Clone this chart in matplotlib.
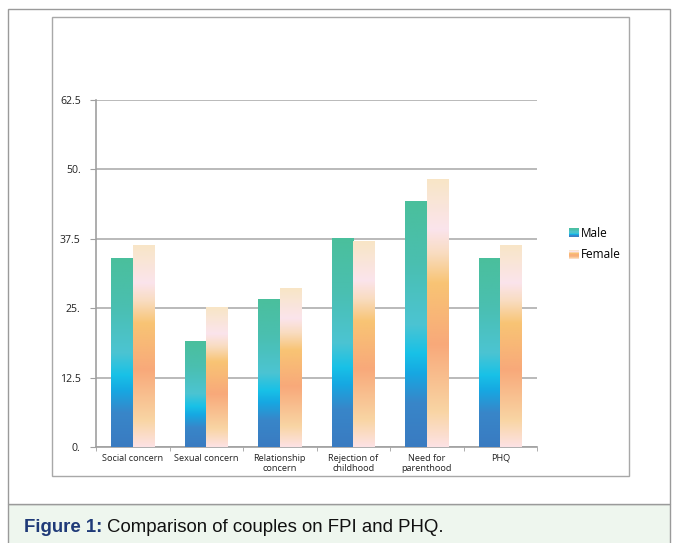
import numpy as np
import matplotlib
matplotlib.use("Agg")
import matplotlib.pyplot as plt
from matplotlib.colors import LinearSegmentedColormap
from matplotlib.patches import Rectangle
from matplotlib.legend_handler import HandlerBase

categories = ["Social concern", "Sexual concern", "Relationship\nconcern",
              "Rejection of\nchildhood", "Need for\nparenthood", "PHQ"]
male = [34.0, 19.1, 26.7, 37.6, 44.3, 34.0]
female = [36.4, 25.2, 28.6, 37.1, 48.3, 36.4]
yticks = [0, 12.5, 25, 37.5, 50, 62.5]
ytick_labels = ["0.", "12.5", "25.", "37.5", "50.", "62.5"]

# gradients, listed from bar bottom (0) to bar top (1)
male_cmap = LinearSegmentedColormap.from_list("male", [
    (0.0, "#3a7bc1"), (0.18, "#3886c9"), (0.30, "#16a8e2"), (0.38, "#18c1e7"),
    (0.50, "#4cc4d2"), (0.75, "#4abfb0"), (1.0, "#4bbf9c")])
female_cmap = LinearSegmentedColormap.from_list("female", [
    (0.0, "#fde2e4"), (0.13, "#f9d5a4"), (0.38, "#f8a97a"), (0.61, "#f8c474"),
    (0.72, "#f9dcc0"), (0.81, "#fbe4ec"), (1.0, "#f8e6c6")])

fig = plt.figure(figsize=(6.73, 5.43), dpi=100)
W, H = 673, 543


def fbox(x0, y0, x1, y1, **kw):
    # rectangle in pixel coords of the page (y down)
    fig.patches.append(Rectangle((x0 / W, 1 - y1 / H), (x1 - x0) / W, (y1 - y0) / H,
                                 transform=fig.transFigure, **kw))


fbox(8, 504, 670, 560, facecolor="#eef6ee", edgecolor="#9a9a9a", lw=1.0, zorder=0)
fbox(8, 9, 670, 504, facecolor="white", edgecolor="#9a9a9a", lw=1.0, zorder=0)
fbox(52, 17, 629, 476, facecolor="white", edgecolor="#a8a8a8", lw=1.0, zorder=0)

ax = fig.add_axes([96 / W, 1 - 447 / H, 441 / W, 347 / H])
ax.set_zorder(5)
ax.patch.set_alpha(0)

x = np.arange(len(categories))
bw = 0.29
bars_m = ax.bar(x - bw / 2, male, bw, color="none", zorder=3)
bars_f = ax.bar(x + bw / 2, female, bw, color="none", zorder=3)

grad = np.linspace(0, 1, 256).reshape(-1, 1)
for bars, cmap in [(bars_m, male_cmap), (bars_f, female_cmap)]:
    for p in bars:
        x0, y0 = p.get_x(), p.get_y()
        im = ax.imshow(grad, cmap=cmap, origin="lower", aspect="auto",
                       extent=[x0, x0 + p.get_width(), y0, y0 + p.get_height()],
                       zorder=3, interpolation="bilinear")
        im.set_clip_path(p)

ax.set_xlim(-0.5, 5.5)
ax.set_ylim(0, 62.5)
ax.set_yticks(yticks)
ax.set_yticklabels(ytick_labels)
ax.yaxis.grid(True, color="#b4b4b4", lw=1.3, zorder=1)
ax.set_axisbelow(True)

ax.set_xticks(x)
ax.set_xticklabels(categories, linespacing=1.15)
ax.set_xticks(np.arange(-0.5, 6, 1), minor=True)
ax.tick_params(axis="x", which="major", length=0, pad=5, labelsize=6.6, labelcolor="#222222")
ax.tick_params(axis="x", which="minor", length=3, color="#a0a0a0")
ax.tick_params(axis="y", length=4, color="#a0a0a0", pad=7, labelsize=7.6, labelcolor="#222222")
for lab in ax.get_xticklabels() + ax.get_yticklabels():
    lab.set_family("Open Sans")

for s in ["top", "right"]:
    ax.spines[s].set_visible(False)
for s in ["left", "bottom"]:
    ax.spines[s].set_color("#a0a0a0")
    ax.spines[s].set_linewidth(1.2)


class GradientHandler(HandlerBase):
    def __init__(self, cmap):
        super().__init__()
        self.cmap = cmap

    def create_artists(self, legend, orig_handle, xdescent, ydescent, width, height, fontsize, trans):
        n = 8
        arts = []
        for i in range(n):
            r = Rectangle((-xdescent, -ydescent + height * i / n), width, height / n,
                          facecolor=self.cmap((i + 0.5) / n), edgecolor="none", transform=trans)
            arts.append(r)
        return arts


hm = Rectangle((0, 0), 1, 1)
hf = Rectangle((0, 0), 1, 1)
leg = fig.legend([hm, hf], ["Male", "Female"],
                 handler_map={hm: GradientHandler(male_cmap), hf: GradientHandler(female_cmap)},
                 loc="upper left", bbox_to_anchor=(558 / W, 1 - 216 / H), frameon=False,
                 handlelength=0.85, handleheight=0.8, handletextpad=0.15, labelspacing=0.75,
                 prop={"family": "Open Sans", "size": 8.5})

t1 = fig.text(24 / W, 1 - 532 / H, "Figure 1:", color="#1f3a78", fontweight="bold",
              family="Liberation Sans", fontsize=13.4, va="baseline")
fig.canvas.draw()
bb = t1.get_window_extent()
fig.text(bb.x1 / W + 5 / W, 1 - 532 / H, "Comparison of couples on FPI and PHQ.", color="#111111",
         family="Liberation Sans", fontsize=13.4, va="baseline")

fig.savefig("out.png", dpi=100)
